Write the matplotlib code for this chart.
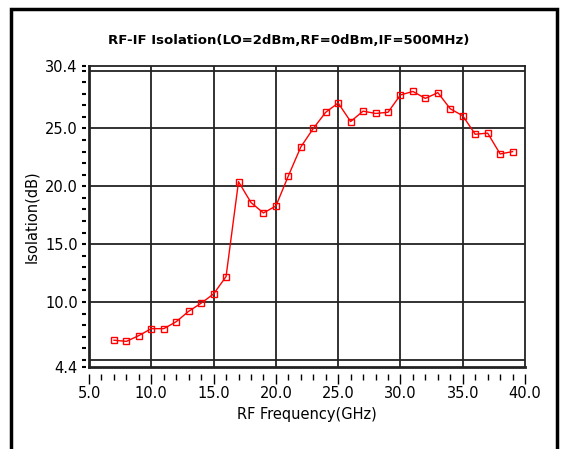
import matplotlib
matplotlib.use("Agg")
import matplotlib.pyplot as plt
from matplotlib.patches import Rectangle
import numpy as np

# RF frequency (GHz) and isolation (dB)
freq = [7, 8, 9, 10, 11, 12, 13, 14, 15, 16, 17, 18, 19, 20, 21, 22, 23,
        24, 25, 26, 27, 28, 29, 30, 31, 32, 33, 34, 35, 36, 37, 38, 39]
isolation = [6.7, 6.6, 7.1, 7.7, 7.7, 8.3, 9.2, 9.9, 10.7, 12.2, 20.4, 18.6,
             17.7, 18.3, 20.9, 23.4, 25.0, 26.4, 27.2, 25.6, 26.5, 26.3,
             26.4, 27.9, 28.2, 27.6, 28.1, 26.7, 26.1, 24.5, 24.6, 22.8, 23.0]

ytick_vals = [4.4, 10.0, 15.0, 20.0, 25.0, 30.4]
ytick_labels = ["4.4", "10.0", "15.0", "20.0", "25.0", "30.4"]
ygrid = [5, 10, 15, 20, 25, 30]
xtick_vals = [5, 10, 15, 20, 25, 30, 35, 40]
xgrid = [10, 15, 20, 25, 30, 35]

fig = plt.figure(figsize=(5.67, 4.49), dpi=100)
ax = fig.add_axes([0.157, 0.183, 0.769, 0.670])

# outer frame of the panel
fig.patches.append(Rectangle((0.02, -0.1), 0.963, 1.08, transform=fig.transFigure,
                             fill=False, edgecolor="black", linewidth=2.5, clip_on=False))

for g in ygrid:
    ax.axhline(g, color="#222222", linewidth=1.3, zorder=1)
for g in xgrid:
    ax.axvline(g, color="#222222", linewidth=1.3, zorder=1)

ax.plot(freq, isolation, color="red", linewidth=1.0, marker="s", markersize=5,
        markerfacecolor="none", markeredgecolor="red", markeredgewidth=1.0, zorder=3)

ax.set_xlim(5, 40)
ax.set_ylim(4.4, 30.4)
ax.set_xticks(xtick_vals)
ax.set_xticklabels(["%.1f" % v for v in xtick_vals])
ax.set_xticks(np.arange(5, 41, 1), minor=True)
ax.set_yticks(ytick_vals)
ax.set_yticklabels(ytick_labels)
ax.set_yticks(np.arange(5, 31, 1), minor=True)

for s in ax.spines.values():
    s.set_linewidth(1.3)
    s.set_color("#222222")

# ticks sit a few pixels away from the frame
ax.spines["bottom"].set_position(("outward", 5))
ax.spines["bottom"].set_visible(False)
ax.spines["left"].set_position(("outward", 2))
ax.spines["left"].set_visible(False)
ax.axhline(4.4, color="#222222", linewidth=2.0, clip_on=False, zorder=2)
ax.axvline(5, color="#222222", linewidth=2.0, clip_on=False, zorder=2)

ax.tick_params(axis="x", which="major", direction="out", length=7, width=1.0, labelsize=10.5, pad=2)
ax.tick_params(axis="x", which="minor", direction="out", length=4, width=1.0)
ax.tick_params(axis="y", which="major", direction="out", length=3, width=1.5, labelsize=10.5, pad=3)
ax.tick_params(axis="y", which="minor", direction="out", length=3, width=1.5)

fig.text(0.51, 0.91, "RF-IF Isolation(LO=2dBm,RF=0dBm,IF=500MHz)", fontsize=9.5,
         fontweight="bold", ha="center", va="center")
ax.set_xlabel("RF Frequency(GHz)", fontsize=10.5, labelpad=4)
ax.set_ylabel("Isolation(dB)", fontsize=10.5, labelpad=4)

plt.savefig("out.png", dpi=100)
